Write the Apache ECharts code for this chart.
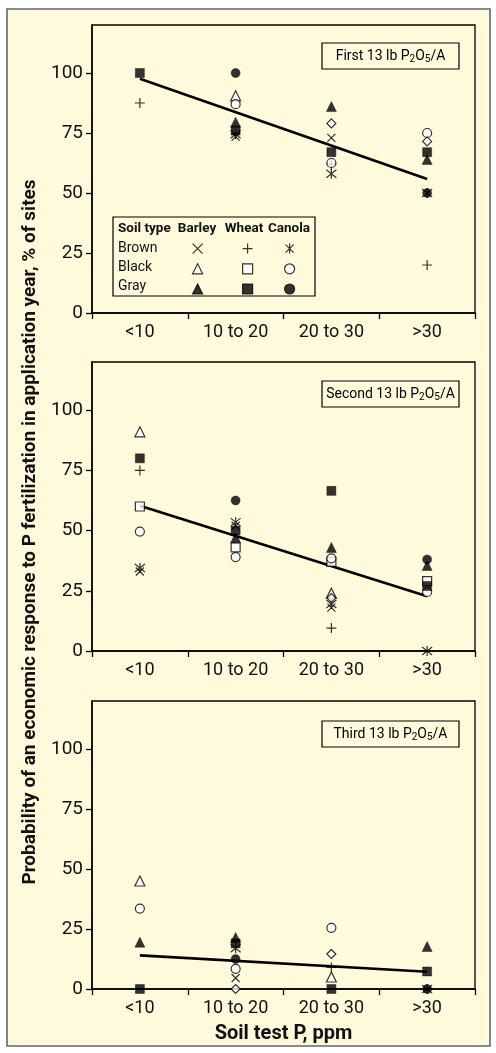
<!DOCTYPE html>
<html><head><meta charset="utf-8">
<script src="https://cdn.jsdelivr.net/npm/echarts@6/dist/echarts.min.js"></script>
<style>html,body{margin:0;padding:0;background:#fff}#c{width:496px;height:1053px}</style>
</head><body><div id="c"></div>
<script>
// ---------- DATA ----------
const categories = ['<10', '10 to 20', '20 to 30', '>30'];
const yTickValues = [0, 25, 50, 75, 100];
const panelTitles = ['First', 'Second', 'Third'];
const soilTypes = ['Brown', 'Black', 'Gray'];
const crops = ['Barley', 'Wheat', 'Canola'];

// First 13 lb P2O5/A
const firstBrownBarley = [null, 73.5, 73, null];
const firstBrownWheat  = [87.5, null, 62, 20];
const firstBrownCanola = [null, 74.5, 58, 50];
const firstBlackBarley = [null, 90.5, null, null];
const firstBlackWheat  = [null, null, null, null];
const firstBlackCanola = [null, 87, 62.5, 75];
const firstGrayBarley  = [null, 79.5, 86, 64];
const firstGrayWheat   = [100, 76, 67, 67];
const firstGrayCanola  = [null, 100, null, 50];
const firstOther       = [null, null, 79, 71.5];
const firstTrend       = [97.6, null, null, 55.8];

// Second 13 lb P2O5/A
const secondBrownBarley = [33, 52, 18, null];
const secondBrownWheat  = [75, null, 9.5, null];
const secondBrownCanola = [34.5, 53.5, 19.5, 0];
const secondBlackBarley = [91, null, 24, null];
const secondBlackWheat  = [60, 43, 37, 29];
const secondBlackCanola = [49.6, 39, 38.5, 24.5];
const secondGrayBarley  = [null, 47, 43, 35.5];
const secondGrayWheat   = [80, 50, 66.5, 27];
const secondGrayCanola  = [null, 62.5, null, 38];
const secondOther       = [null, null, 22, null];
const secondTrend       = [60.3, null, null, 22.7];

// Third 13 lb P2O5/A
const thirdBrownBarley = [null, 4.6, null, null];
const thirdBrownWheat  = [null, null, 9, null];
const thirdBrownCanola = [null, 17, null, 0];
const thirdBlackBarley = [45, null, 5, null];
const thirdBlackWheat  = [null, null, null, null];
const thirdBlackCanola = [33.5, 8.4, 25.5, null];
const thirdGrayBarley  = [19.5, 21.5, null, 17.7];
const thirdGrayWheat   = [0, 19, 0, 7.3];
const thirdGrayCanola  = [null, 12.5, null, 0];
const thirdOther       = [null, 0, 14.6, null];
const thirdTrend       = [14, null, null, 7.2];

const panels = [
  [firstBrownBarley, firstBrownWheat, firstBrownCanola, firstBlackBarley, firstBlackWheat, firstBlackCanola, firstGrayBarley, firstGrayWheat, firstGrayCanola, firstOther, firstTrend],
  [secondBrownBarley, secondBrownWheat, secondBrownCanola, secondBlackBarley, secondBlackWheat, secondBlackCanola, secondGrayBarley, secondGrayWheat, secondGrayCanola, secondOther, secondTrend],
  [thirdBrownBarley, thirdBrownWheat, thirdBrownCanola, thirdBlackBarley, thirdBlackWheat, thirdBlackCanola, thirdGrayBarley, thirdGrayWheat, thirdGrayCanola, thirdOther, thirdTrend]
];

// ---------- STYLE ----------
const FONT = "Roboto, 'Liberation Sans', sans-serif";
const BG = '#FFFADC';
const INK = '#111';
const X_PATH = 'path://M0,0L10,10M10,0L0,10';
const PLUS_PATH = 'path://M5,0L5,10M0,5L10,5';
const AST_PATH = 'path://M1,1L9,9M9,1L1,9M5,0L5,10';
const STROKE = {color: 'rgba(0,0,0,0)', borderColor: '#000', borderWidth: 1.2};
const HOLLOW = {color: '#fff', borderColor: '#000', borderWidth: 1.2};
const SOLID = {color: '#000', borderColor: '#000', borderWidth: 0.5};
const markerDefs = [
  {symbol: X_PATH, size: 8, style: STROKE},
  {symbol: PLUS_PATH, size: 10, style: STROKE},
  {symbol: AST_PATH, size: 10, style: STROKE},
  {symbol: 'triangle', size: 10, style: HOLLOW},
  {symbol: 'rect', size: 9, style: HOLLOW},
  {symbol: 'circle', size: 9, style: HOLLOW},
  {symbol: 'triangle', size: 10, style: SOLID},
  {symbol: 'rect', size: 9, style: SOLID},
  {symbol: 'circle', size: 9, style: SOLID},
  {symbol: 'diamond', size: 9, style: HOLLOW}
];
const seriesNames = [];
soilTypes.forEach(s => crops.forEach(c => seriesNames.push(s + ' ' + c)));
seriesNames.push('Other');

const gridTops = [25, 362, 701];
const gridHeights = [288, 289, 288];

const grids = [], xAxes = [], yAxes = [], series = [];
panels.forEach((panel, p) => {
  grids.push({left: 92, right: 21, top: gridTops[p], height: gridHeights[p], show: true,
    borderColor: '#000', borderWidth: 1.3, backgroundColor: 'transparent'});
  xAxes.push({gridIndex: p, type: 'category', data: categories, boundaryGap: true,
    axisLine: {lineStyle: {color: '#000', width: 1.5}},
    axisTick: {show: true, length: 6, lineStyle: {color: '#000', width: 1.3}},
    axisLabel: {fontSize: 18, color: INK, margin: 10, fontFamily: FONT, interval: 0, hideOverlap: false},
    splitLine: {show: false}});
  yAxes.push({gridIndex: p, type: 'value', min: 0, max: 120,
    axisLine: {show: true, lineStyle: {color: '#000', width: 1.5}},
    axisTick: {show: true, length: 6, lineStyle: {color: '#000', width: 1.3}, customValues: yTickValues},
    axisLabel: {show: false},
    splitLine: {show: false}});
  // trend line (its invisible markLine carries the y tick labels)
  series.push({type: 'line', name: 'Trend ' + p, xAxisIndex: p, yAxisIndex: p,
    data: panel[10].map(v => v === null ? '-' : v), connectNulls: true, symbol: 'none',
    lineStyle: {color: '#000', width: 2.6}, z: 2, silent: true,
    markLine: {silent: true, symbol: ['none', 'none'], animation: false,
      lineStyle: {color: 'rgba(0,0,0,0)', width: 0, type: 'solid'},
      label: {show: true, position: 'start', distance: 9, formatter: d => String(d.value),
        fontSize: 19, color: INK, fontFamily: FONT},
      emphasis: {disabled: true},
      data: yTickValues.map(v => ({yAxis: v}))}});
  for (let k = 0; k < 10; k++) {
    const m = markerDefs[k];
    series.push({type: 'scatter', name: seriesNames[k], xAxisIndex: p, yAxisIndex: p,
      data: panel[k].map(v => v === null ? '-' : v),
      symbol: m.symbol, symbolSize: m.size, itemStyle: m.style, z: 3, silent: true});
  }
});

const legendCommon = {orient: 'vertical', itemWidth: 10, itemHeight: 10, itemGap: 9, padding: 0,
  formatter: () => '', textStyle: {fontSize: 10, lineHeight: 10}, selectedMode: false,
  itemStyle: {borderWidth: 1.2}, top: 243};
const legends = [
  Object.assign({}, legendCommon, {left: 192, data: ['Brown Barley', 'Black Barley', 'Gray Barley']}),
  Object.assign({}, legendCommon, {left: 242, data: ['Brown Wheat', 'Black Wheat', 'Gray Wheat']}),
  Object.assign({}, legendCommon, {left: 284, data: ['Brown Canola', 'Black Canola', 'Gray Canola']})
];

const boxTops = [43, 381, 721];
const graphic = [
  {type: 'rect', shape: {x: 7, y: 9, width: 483, height: 1037}, style: {fill: BG, stroke: '#666', lineWidth: 1.6}, z: -10, silent: true},
  {type: 'text', x: 30, y: 532, rotation: Math.PI / 2, silent: true,
    style: {text: 'Probability of an economic response to P fertilization in application year, % of sites',
      fontSize: 19, fontWeight: 'bold', fontFamily: FONT, fill: INK, align: 'center', verticalAlign: 'middle'}},
  {type: 'text', x: 283.5, y: 1034, silent: true,
    style: {text: 'Soil test P, ppm', fontSize: 20, fontWeight: 'bold', fontFamily: FONT, fill: INK, align: 'center', verticalAlign: 'middle'}},
  // legend table
  {type: 'rect', shape: {x: 113, y: 217, width: 202, height: 79}, style: {fill: BG, stroke: '#000', lineWidth: 1.2}, z: 1, silent: true},
  {type: 'text', x: 118, y: 229, z: 2, silent: true, style: {text: 'Soil type', fontSize: 13.5, fontWeight: 'bold', fontFamily: FONT, fill: INK, verticalAlign: 'middle'}},
  {type: 'text', x: 197, y: 229, z: 2, silent: true, style: {text: crops[0], fontSize: 13.5, fontWeight: 'bold', fontFamily: FONT, fill: INK, align: 'center', verticalAlign: 'middle'}},
  {type: 'text', x: 244, y: 229, z: 2, silent: true, style: {text: crops[1], fontSize: 13.5, fontWeight: 'bold', fontFamily: FONT, fill: INK, align: 'center', verticalAlign: 'middle'}},
  {type: 'text', x: 289, y: 229, z: 2, silent: true, style: {text: crops[2], fontSize: 13.5, fontWeight: 'bold', fontFamily: FONT, fill: INK, align: 'center', verticalAlign: 'middle'}}
];
soilTypes.forEach((s, i) => {
  graphic.push({type: 'text', x: 118, y: 248 + i * 19, z: 2, silent: true,
    style: {text: s, fontSize: 14, fontFamily: FONT, fill: INK, verticalAlign: 'middle'}});
});
panelTitles.forEach((t, i) => {
  graphic.push({type: 'rect', shape: {x: 322, y: boxTops[i], width: 137, height: 26}, style: {fill: BG, stroke: '#000', lineWidth: 1.2}, z: 1, silent: true});
  graphic.push({type: 'text', x: 390.5, y: boxTops[i] + 13, z: 2, silent: true,
    style: {text: '{a|' + t + ' 13 lb P}{s|2}{a|O}{s|5}{a|/A}', align: 'center', verticalAlign: 'middle',
      rich: {a: {fontSize: 14, fontFamily: FONT, color: INK},
             s: {fontSize: 10, fontFamily: FONT, color: INK, padding: [6, 0, 0, 0]}}}});
});

const chart = echarts.init(document.getElementById('c'), null, {renderer: 'canvas'});
chart.setOption({
  backgroundColor: '#fff',
  animation: false,
  grid: grids, xAxis: xAxes, yAxis: yAxes, series: series,
  legend: legends, graphic: graphic
});
</script></body></html>
